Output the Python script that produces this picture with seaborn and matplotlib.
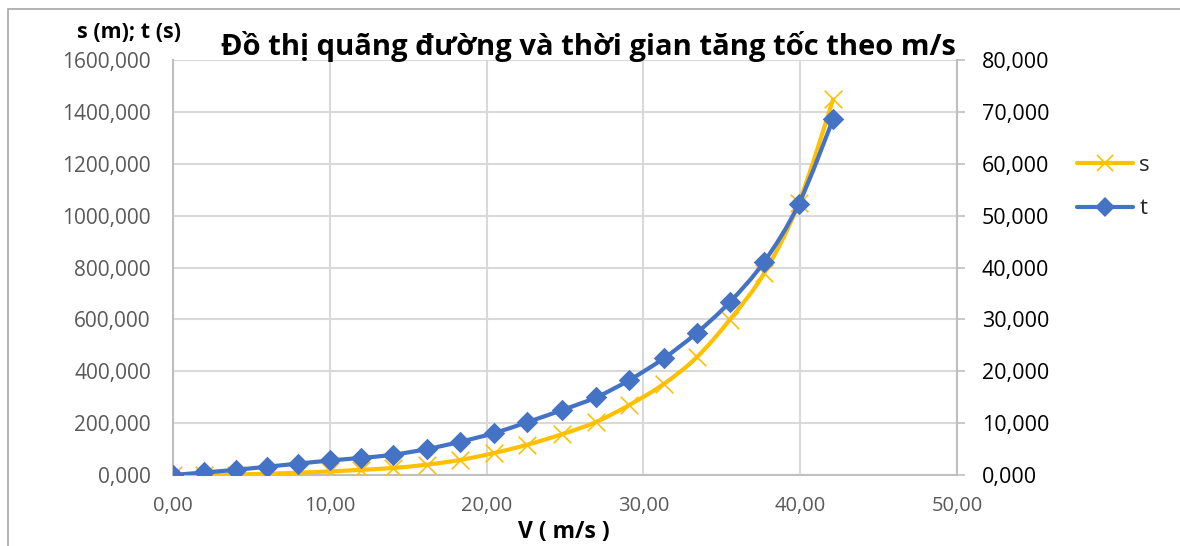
import numpy as np
import pandas as pd
import seaborn as sns
import matplotlib
matplotlib.use("Agg")
import matplotlib.pyplot as plt
from matplotlib.path import Path
from matplotlib.patches import PathPatch, Rectangle
from matplotlib.lines import Line2D
from matplotlib.ticker import FuncFormatter, MultipleLocator

# Speed (m/s), distance s (m) and time t (s) during acceleration
V = [0, 2, 4, 6, 8, 10, 12, 14, 16.2, 18.3, 20.5, 22.6, 24.8, 27.0,
     29.1, 31.3, 33.4, 35.5, 37.7, 39.9, 42.1]
s_vals = [0, 1, 2, 5, 9, 14, 20, 27, 40, 58, 85, 117, 157, 205,
          270, 351, 454, 598, 778, 1047, 1448]
t_vals = [0, 0.5, 1.0, 1.6, 2.2, 2.8, 3.3, 3.9, 5.0, 6.4, 8.1, 10.2, 12.5, 15.0,
          18.3, 22.5, 27.4, 33.3, 41.1, 52.2, 68.6]

title = "Đồ thị quãng đường và thời gian tăng tốc theo m/s"
y_label = "s (m); t (s)"
x_label = "V ( m/s )"
series_names = ["s", "t"]

df = pd.DataFrame({"V": V, "s": s_vals, "t": t_vals})

sns.set_theme(style="white")
FONT = ["Open Sans", "Noto Sans", "DejaVu Sans"]
plt.rcParams["font.family"] = FONT

C_S = "#FFC000"
C_T = "#4472C4"
GRID = "#D9D9D9"
AXC = "#BFBFBF"

fig = plt.figure(figsize=(11.8, 5.46), dpi=100)
ax = fig.add_axes([0.1466, 0.130, 0.6644, 0.760])
ax2 = ax.twinx()


def smooth_path(xs, ys):
    """Cubic Bezier path through the points (Catmull-Rom style tangents)."""
    pts = np.column_stack([xs, ys]).astype(float)
    n = len(pts)
    verts = [pts[0]]
    codes = [Path.MOVETO]
    for i in range(n - 1):
        p0 = pts[i - 1] if i > 0 else pts[i]
        p1 = pts[i]
        p2 = pts[i + 1]
        p3 = pts[i + 2] if i + 2 < n else pts[i + 1]
        c1 = p1 + (p2 - p0) / 6.0
        c2 = p2 - (p3 - p1) / 6.0
        verts += [c1, c2, p2]
        codes += [Path.CURVE4] * 3
    return Path(verts, codes)


# s on the left axis
ax.add_patch(PathPatch(smooth_path(df["V"], df["s"]), facecolor="none",
                       edgecolor=C_S, lw=3.0, zorder=3, capstyle="round"))
sns.scatterplot(data=df, x="V", y="s", ax=ax, marker="x", s=160, color=C_S,
                linewidth=1.2, zorder=4, legend=False)

# t on the right axis
ax2.add_patch(PathPatch(smooth_path(df["V"], df["t"]), facecolor="none",
                        edgecolor=C_T, lw=3.0, zorder=3, capstyle="round"))
sns.scatterplot(data=df, x="V", y="t", ax=ax2, marker="D", s=120, color=C_T,
                edgecolor=C_T, linewidth=0, zorder=4, legend=False)

ax.set_xlim(0, 50)
ax.set_ylim(0, 1600)
ax2.set_ylim(0, 80)
ax.xaxis.set_major_locator(MultipleLocator(10))
ax.yaxis.set_major_locator(MultipleLocator(200))
ax2.yaxis.set_major_locator(MultipleLocator(10))

ax.xaxis.set_major_formatter(FuncFormatter(lambda v, p: f"{v:.2f}".replace(".", ",")))
ax.yaxis.set_major_formatter(FuncFormatter(lambda v, p: f"{v:.3f}".replace(".", ",")))
ax2.yaxis.set_major_formatter(FuncFormatter(lambda v, p: f"{v:.3f}".replace(".", ",")))

ax.grid(True, color=GRID, lw=1.5)
ax.set_axisbelow(True)
ax.set_xlabel("")
ax.set_ylabel("")
ax2.set_ylabel("")

ax.tick_params(axis="x", length=0, pad=15, labelsize=14.5, labelcolor="#595959")
ax.tick_params(axis="y", length=0, pad=16, labelsize=15, labelcolor="#595959")
ax2.tick_params(axis="y", length=6, width=1.2, color=AXC, direction="out",
                pad=12, labelsize=15.5, labelcolor="black")

for sp in ["top"]:
    ax.spines[sp].set_visible(False)
    ax2.spines[sp].set_visible(False)
for sp in ["left", "bottom"]:
    ax.spines[sp].set_color(AXC)
    ax.spines[sp].set_linewidth(1.5)
ax.spines["right"].set_visible(False)
ax2.spines["left"].set_visible(False)
ax2.spines["bottom"].set_visible(False)
ax2.spines["right"].set_color(AXC)
ax2.spines["right"].set_linewidth(1.5)

# Titles and axis captions
fig.text(588 / 1180, 1 - 46 / 546, title, ha="center", va="center",
         fontsize=21, fontweight="bold", color="black")
fig.text(129 / 1180, 1 - 32 / 546, y_label, ha="center", va="center",
         fontsize=15.5, fontweight="bold", color="black")
fig.text(564 / 1180, 1 - 532 / 546, x_label, ha="center", va="center",
         fontsize=16.5, fontweight="bold", color="black")

# Legend
handles = [
    Line2D([], [], color=C_S, lw=3, marker="x", markersize=12, mew=1.2),
    Line2D([], [], color=C_T, lw=3, marker="D", markersize=10, mew=0),
]
fig.legend(handles, series_names, loc="upper left",
           bbox_to_anchor=(1066 / 1180, 1 - 144 / 546), frameon=False,
           fontsize=16, handlelength=2.5, handletextpad=0.3, labelspacing=1.0,
           borderpad=0)

# Chart area border
fig.add_artist(Rectangle((8 / 1180, -0.05), 1.2, 1 - 9 / 546 + 0.05,
                         transform=fig.transFigure, fill=False,
                         edgecolor="#A6A6A6", lw=1.2))

fig.savefig("out.png", dpi=100)
